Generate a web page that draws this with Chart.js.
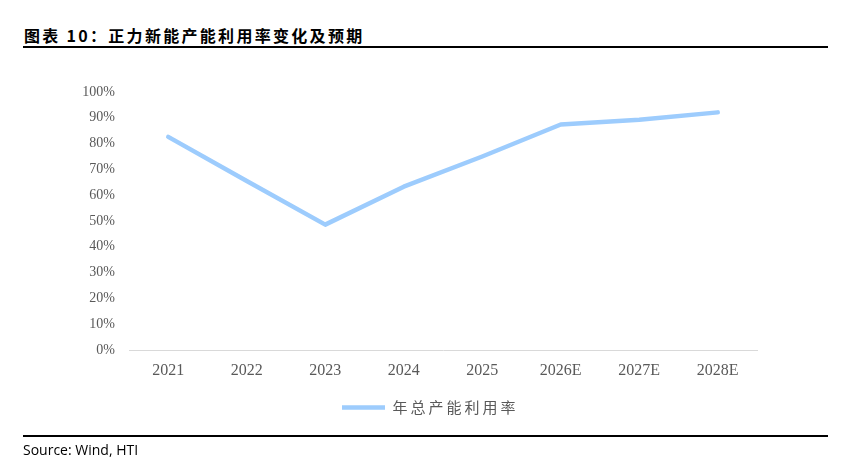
<!DOCTYPE html>
<html>
<head>
<meta charset="utf-8">
<script src="https://cdn.jsdelivr.net/npm/chart.js@4.4.1/dist/chart.umd.min.js"></script>
<style>
  html, body { margin: 0; padding: 0; background: #fff; }
  #wrap { position: relative; width: 864px; height: 465px; overflow: hidden; }
  #chart { position: absolute; left: 0; top: 0; }
  .title {
    position: absolute; left: 24px; top: 23px;
    font: bold 16px "Noto Sans CJK SC", sans-serif; letter-spacing: 2.3px; color: #000;
  }
  .rule { position: absolute; left: 23px; width: 805px; height: 2px; background: #000; }
  .source {
    position: absolute; left: 23px; top: 440px;
    font: 14px "Open Sans", sans-serif; color: #000;
  }
</style>
</head>
<body>
<div id="wrap">
  <div class="title">图表 10：正力新能产能利用率变化及预期</div>
  <div class="rule" style="top:46px"></div>
  <canvas id="chart" width="864" height="465"></canvas>
  <div class="rule" style="top:435px"></div>
  <div class="source">Source: Wind, HTI</div>
</div>
<script>
// data
const years = ['2021', '2022', '2023', '2024', '2025', '2026E', '2027E', '2028E'];
const utilization = [82.6, 65.5, 48.6, 63.3, 75.0, 87.4, 89.2, 92.1];
const seriesName = '年总产能利用率';
const yTicks = [0, 10, 20, 30, 40, 50, 60, 70, 80, 90, 100];

const lineColor = '#9DCCFD';
const tickColor = '#595959';

// legend needs wider letter spacing and a fixed start position
const legendTweak = {
    id: 'legendTweak',
    afterLayout(chart) {
        chart.legend.left = 332;
    },
    beforeDraw(chart) {
        const lg = chart.legend;
        if (lg && !lg._patched) {
            const orig = lg.draw.bind(lg);
            lg.draw = function (area) {
                const ctx = chart.ctx;
                ctx.save();
                ctx.letterSpacing = '3px';
                orig(area);
                ctx.restore();
            };
            lg._patched = true;
        }
    }
};

new Chart(document.getElementById('chart').getContext('2d'), {
    type: 'line',
    data: {
        labels: years,
        datasets: [{
            label: seriesName,
            data: utilization,
            borderColor: lineColor,
            backgroundColor: lineColor,
            borderWidth: 4.5,
            borderCapStyle: 'round',
            borderJoinStyle: 'round',
            pointRadius: 0,
            tension: 0
        }]
    },
    options: {
        responsive: false,
        animation: false,
        layout: {
            padding: { left: 0, right: 107, top: 92, bottom: 40 }
        },
        scales: {
            x: {
                offset: true,
                grid: { display: false, drawTicks: false, offset: true },
                border: { display: true, color: '#d9d9d9', width: 1 },
                ticks: {
                    color: tickColor,
                    padding: 11,
                    font: { family: '"Liberation Serif", serif', size: 16 }
                },
                afterFit: (scale) => { scale.height = 40; }
            },
            y: {
                min: 0,
                max: 100,
                afterBuildTicks: (scale) => { scale.ticks = yTicks.map(v => ({ value: v })); },
                grid: { display: false, drawTicks: false },
                border: { display: false },
                ticks: {
                    color: tickColor,
                    padding: 14,
                    font: { family: '"Liberation Serif", serif', size: 14 },
                    callback: (v) => v + '%'
                },
                afterFit: (scale) => { scale.width = 129; }
            }
        },
        plugins: {
            legend: {
                position: 'bottom',
                align: 'start',
                labels: {
                    color: tickColor,
                    usePointStyle: true,
                    pointStyle: 'line',
                    pointStyleWidth: 43,
                    boxHeight: 15,
                    padding: 10,
                    font: { family: '"Noto Sans CJK SC", sans-serif', size: 15 }
                }
            },
            tooltip: { enabled: false }
        }
    },
    plugins: [legendTweak]
});
</script>
</body>
</html>
